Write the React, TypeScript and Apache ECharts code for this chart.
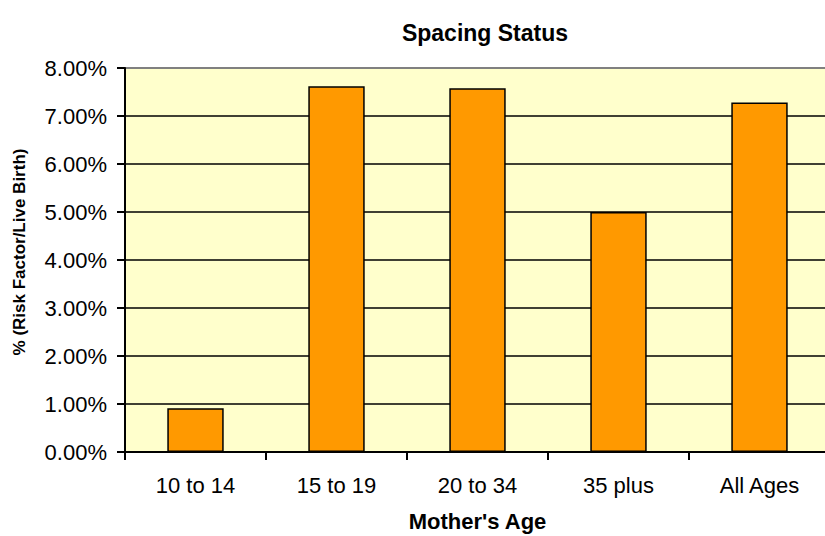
import React, { useEffect, useRef } from "react";
import * as echarts from "echarts";

const categories = ["10 to 14", "15 to 19", "20 to 34", "35 plus", "All Ages"];
const values = [0.91, 7.62, 7.58, 5.0, 7.28];
const chartTitle = "Spacing Status";
const xName = "Mother's Age";
const yName = "% (Risk Factor/Live Birth)";

export default function App() {
  const ref = useRef<HTMLDivElement>(null);
  useEffect(() => {
    const chart = echarts.init(ref.current!, null, { renderer: "svg" });
    const font = "Arial, 'Liberation Sans', sans-serif";
    chart.setOption({
      animation: false,
      backgroundColor: "#ffffff",
      title: {
        text: chartTitle,
        left: 480,
        top: 16,
        textAlign: "center",
        textStyle: { fontFamily: font, fontSize: 23, fontWeight: "bold", color: "#000" },
      },
      graphic: [
        {
          type: "text",
          x: 19,
          y: 252,
          rotation: Math.PI / 2,
          style: {
            text: yName,
            align: "center",
            verticalAlign: "middle",
            fontFamily: font,
            fontSize: 17,
            fontWeight: "bold",
            fill: "#000",
          },
        },
      ],
      grid: {
        left: 125,
        top: 68,
        width: 705,
        height: 384,
        outerBoundsMode: "none",
        containLabel: false,
        show: true,
        backgroundColor: "#FFFFCC",
        borderColor: "#808080",
        borderWidth: 2,
      },
      xAxis: {
        type: "category",
        data: categories,
        name: xName,
        nameLocation: "middle",
        nameGap: 58,
        nameTextStyle: { fontFamily: font, fontSize: 22, fontWeight: "bold", color: "#000" },
        axisLine: { lineStyle: { color: "#000", width: 2 } },
        axisTick: { show: true, length: 8, inside: false, lineStyle: { color: "#000", width: 2 } },
        axisLabel: { fontFamily: font, fontSize: 22, color: "#000", margin: 22 },
      },
      yAxis: {
        type: "value",
        min: 0,
        max: 8,
        interval: 1,
        axisLine: { show: true, lineStyle: { color: "#000", width: 2 } },
        axisTick: { show: true, length: 8, lineStyle: { color: "#000", width: 2 } },
        axisLabel: {
          fontFamily: font,
          fontSize: 22,
          color: "#000",
          margin: 18,
          formatter: (v: number) => v.toFixed(2) + "%",
        },
        splitLine: {
          show: true,
          lineStyle: {
            color: ["#000", "#000", "#000", "#000", "#000", "#000", "#000", "#000", "#808080"],
            width: 1.5,
          },
        },
      },
      series: [
        {
          type: "bar",
          data: values,
          barWidth: "40%",
          itemStyle: { color: "#FF9900", borderColor: "#000", borderWidth: 1.5 },
        },
      ],
    });
    return () => chart.dispose();
  }, []);
  return <div ref={ref} style={{ width: 825, height: 536, position: "absolute", left: 0, top: 0 }} />;
}
